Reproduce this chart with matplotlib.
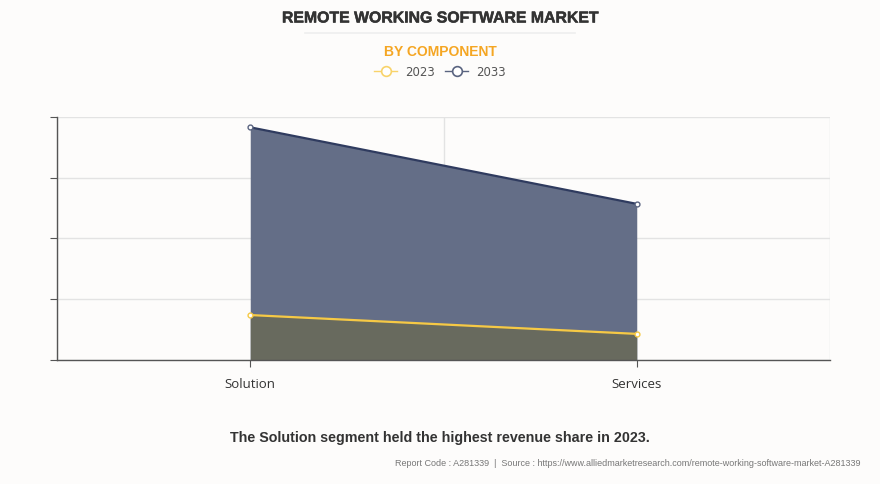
import matplotlib
matplotlib.use("Agg")
import matplotlib.pyplot as plt
from matplotlib.lines import Line2D
import matplotlib.patheffects as pe

categories = ["Solution", "Services"]
years = ["2023", "2033"]
values_2023 = [0.74, 0.43]
values_2033 = [3.83, 2.57]

line_colors = {"2023": "#f6c945", "2033": "#2f3b5f"}
fill_colors = {"2023": "#686a5e", "2033": "#646e87"}

BG = "#fdfcfb"
fig = plt.figure(figsize=(8.8, 4.84), dpi=100, facecolor=BG)
ax = fig.add_axes([57/880, 1-360/484, (830-57)/880, (360-117)/484])
ax.set_facecolor(BG)

x = list(range(len(categories)))
ax.fill_between(x, 0, values_2033, color=fill_colors["2033"], zorder=2, linewidth=0)
ax.plot(x, values_2033, color=line_colors["2033"], lw=1.6, zorder=4,
        marker="o", ms=3.5, mfc="white", mec="#5a6480", mew=1)
ax.fill_between(x, 0, values_2023, color=fill_colors["2023"], zorder=3, linewidth=0)
ax.plot(x, values_2023, color=line_colors["2023"], lw=1.6, zorder=5,
        marker="o", ms=3.5, mfc="white", mec=line_colors["2023"], mew=1)

ax.set_xlim(-0.5, 1.5)
ax.set_ylim(0, 4)
ax.set_yticks([0, 1, 2, 3, 4])
ax.set_yticklabels([])
ax.set_xticks(x)
ax.set_xticklabels(categories, fontsize=9.5, color="#333333", family=["Open Sans", "DejaVu Sans"])
ax.set_xticks([-0.5, 0.5, 1.5], minor=True)
ax.tick_params(axis="x", which="minor", length=0)
ax.tick_params(axis="x", which="major", length=5, color="#555555", pad=8)
ax.tick_params(axis="y", length=5, color="#555555")
ax.grid(axis="y", color="#e3e3e3", lw=1, zorder=1)
ax.grid(axis="x", which="minor", color="#e3e3e3", lw=1, zorder=1)
ax.grid(axis="x", which="major", visible=False)
for s in ["top", "right"]:
    ax.spines[s].set_visible(False)
for s in ["left", "bottom"]:
    ax.spines[s].set_color("#555555")
    ax.spines[s].set_linewidth(1)
ax.spines["bottom"].set_zorder(6)

fig.text(0.5, 1-18/484, "REMOTE WORKING SOFTWARE MARKET", ha="center", va="center",
         fontsize=11.4, fontweight="bold", color="#333333", family="Liberation Sans",
         path_effects=[pe.withStroke(linewidth=0.35, foreground="#333333")])
fig.add_artist(Line2D([305/880, 575/880], [1-33/484, 1-33/484], color="#eeeeee", lw=1.2))
fig.text(0.5, 1-52/484, "BY COMPONENT", ha="center", va="center",
         fontsize=10, fontweight="bold", color="#f5a623", family="Liberation Sans")

handles = [Line2D([0], [0], color="#f8d36a" if y == "2023" else "#5a6480", lw=1,
                  marker="o", ms=7, mfc="white", mec="#f8d36a" if y == "2023" else "#5a6480", mew=1.2)
           for y in years]
fig.legend(handles, years, loc="center", bbox_to_anchor=(0.5, 1-72/484), ncol=2,
           frameon=False, fontsize=8.5, handlelength=1.9, columnspacing=0.9, handletextpad=0.7,
           labelcolor="#555555")

fig.text(0.5, 1-438/484, "The Solution segment held the highest revenue share in 2023.",
         ha="center", va="center", fontsize=10.3, fontweight="bold", color="#333333",
         family="Liberation Sans")
fig.text(860/880, 1-464/484,
         "Report Code : A281339  |  Source : https://www.alliedmarketresearch.com/remote-working-software-market-A281339",
         ha="right", va="center", fontsize=6.45, color="#777777", family="Liberation Sans")

fig.savefig("out.png", dpi=100, facecolor=BG)
